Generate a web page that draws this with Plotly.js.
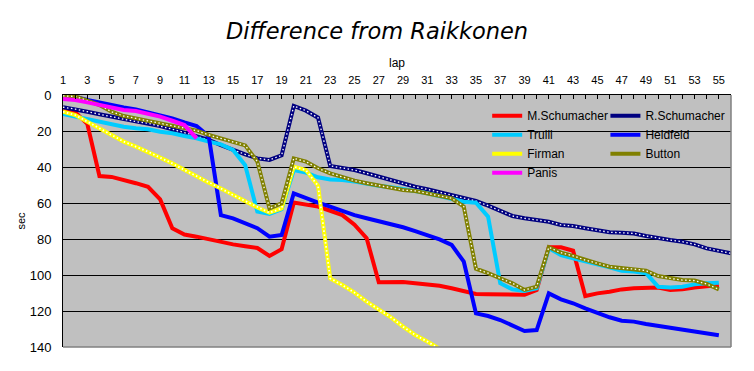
<!DOCTYPE html>
<html>
<head>
<meta charset="utf-8">
<script src="https://cdn.plot.ly/plotly-3.0.1.min.js"></script>
<style>html,body{margin:0;padding:0;background:#fff;}#chart{width:754px;height:371px;}</style>
</head>
<body>
<div id="chart"></div>
<script>
const laps = [1,2,3,4,5,6,7,8,9,10,11,12,13,14,15,16,17,18,19,20,21,22,23,24,25,26,27,28,29,30,31,32,33,34,35,36,37,38,39,40,41,42,43,44,45,46,47,48,49,50,51,52,53,54,55,56];
const tickLabels = ['1','3','5','7','9','11','13','15','17','19','21','23','25','27','29','31','33','35','37','39','41','43','45','47','49','51','53','55'];
const tickLaps = [1,3,5,7,9,11,13,15,17,19,21,23,25,27,29,31,33,35,37,39,41,43,45,47,49,51,53,55];

const mSchumacher = [9,9.5,16,45,45.5,47,49,51,58,74,77.5,78.7,80.2,81.7,83,84,85,89.4,85.7,59.8,61,62,64.3,66.7,72,79.6,104,104,103.9,104.6,105.2,106,107.4,108.7,110.5,110.7,110.7,111,111,108.3,84.6,84.6,86.5,111.7,110.2,109.3,108,107.4,107,107,108.3,107.9,106.9,106,105.5];
const rSchumacher = [6.8,7.8,9.3,10.7,12,13.3,14.8,15.7,17.2,19,20.9,23.1,25,27.8,30.6,33,35.2,36.1,33.5,6.1,8.7,12.6,39.4,40.4,41.7,43.5,45.4,47.2,49,51,52.4,54,55.6,57.4,58.9,61.5,64.4,67.2,68.5,69.4,70.4,72.2,72.8,74,75,76.3,76.5,76.9,78.3,79.6,80.6,81.5,83,85.2,86.7,88];
const trulli = [10.6,12,13.5,14.8,16.3,17.6,18.5,19,20.4,21.3,22.8,24,25.9,27.4,30.5,39,64.8,66.1,63.5,41.7,43.1,45.7,46.9,47.2,48.1,49.4,50.4,51.3,52.2,53.3,54.6,56.1,57.4,59.3,59.8,67.6,104.6,108,108.9,107.4,85.2,88.9,90.7,92.6,94,95.7,97.6,98.1,99,106.5,107,106.5,105.2,104.6,104.3];
const heidfeld = [0.5,1,2.8,4.3,5.6,6.9,8,9.6,11.1,13,15.2,17.2,23,66.7,68.5,71.3,74,78.7,77.8,54.6,57.4,59.8,62,64.4,66.7,68.5,70,71.7,73.5,75.6,77.8,80.2,83.3,92.6,121.3,122.8,125,127.8,131.1,130.6,110.2,113.5,115.7,118.5,121.3,123.5,125.4,125.9,127.2,128.3,129.6,130.6,131.5,132.4,133.5];
const firman = [9.3,11.1,14.8,18.5,22.2,25.9,28.7,31.5,34.8,38,41.7,45,48.7,51.9,55.6,58.9,62.5,65.4,63,39.8,41.7,50.5,101.9,105.6,109.8,114.8,119.1,123.5,128.7,133.3,137,141];
const button = [0.5,0.8,3.1,5.6,9.3,11.7,13,14.3,15.7,17.2,18.5,19.8,22.2,24.1,25.9,28,37,63,60.2,35.2,37,40.7,43.5,45.7,47.6,49,50.4,51.5,52.8,53.3,54.6,56.1,57.4,62,96.5,99,101.9,104.6,108.3,106.5,84.6,87.6,89.4,91.7,93.5,95.4,96.3,96.7,97.6,100.6,101.9,102.8,103.1,105,108];
const panis = [2.2,2.8,4.1,5.6,6.9,8.3,8.9,10.6,12,14.3,16.7,24.1];

function series(name, vals, color, legendName, pattern) {
  const out = [{
    type: 'scatter', mode: 'lines', name: name,
    x: laps.slice(0, vals.length), y: vals,
    line: {color: color, width: 4},
    legend: legendName, legendgroup: name, hoverinfo: 'skip'
  }];
  if (pattern) {
    out.push({
      type: 'scatter', mode: 'lines', name: name,
      x: laps.slice(0, vals.length), y: vals,
      line: {color: '#ffffff', width: pattern, dash: '1.5px,2.5px'},
      legend: legendName, legendgroup: name, showlegend: false, hoverinfo: 'skip'
    });
  }
  return out;
}

const data = [].concat(
  series('M.Schumacher', mSchumacher, '#FF0000', 'legend', 0),
  series('R.Schumacher', rSchumacher, '#000080', 'legend2', 1.3),
  series('Trulli', trulli, '#00CCFF', 'legend', 0),
  series('Heidfeld', heidfeld, '#0000FF', 'legend2', 0),
  series('Firman', firman, '#FFFF00', 'legend', 1.8),
  series('Button', button, '#808000', 'legend2', 1.3),
  series('Panis', panis, '#FF00FF', 'legend', 0)
);

const baseFont = {family: 'Liberation Sans, Arial, sans-serif', color: '#000'};

const layout = {
  width: 754, height: 371,
  margin: {l: 63, r: 23, t: 95, b: 24},
  paper_bgcolor: '#ffffff',
  plot_bgcolor: '#C0C0C0',
  font: Object.assign({size: 12}, baseFont),
  title: {
    text: '<i>Difference from Raikkonen</i>',
    font: {family: 'DejaVu Sans, Verdana, sans-serif', size: 22.5, color: '#000'},
    x: 0.5, xref: 'container', xanchor: 'center',
    y: 1 - 31/371, yref: 'container', yanchor: 'middle'
  },
  xaxis: {
    side: 'top', range: [1, 56], fixedrange: true,
    tickmode: 'array', tickvals: tickLaps, ticktext: tickLabels,
    ticks: 'inside', ticklen: 4, tickcolor: '#000',
    minor: {dtick: 1, tick0: 1, ticks: 'inside', ticklen: 4, tickcolor: '#000', showgrid: false},
    showgrid: false, zeroline: false,
    showline: true, linecolor: '#000', linewidth: 1,
    tickfont: Object.assign({size: 11}, baseFont),
    ticklabelstandoff: 6,
    title: {text: 'lap', font: Object.assign({size: 12}, baseFont), standoff: 3}
  },
  yaxis: {
    range: [140, 0], fixedrange: true,
    tickmode: 'array', tickvals: [0,20,40,60,80,100,120,140],
    ticks: 'inside', ticklen: 4, tickcolor: '#000',
    showgrid: true, gridcolor: '#000', gridwidth: 1,
    zeroline: false,
    showline: true, linecolor: '#000', linewidth: 1,
    tickfont: Object.assign({size: 13}, baseFont),
    ticklabelstandoff: 8,
    title: {text: 'sec', font: Object.assign({size: 11}, baseFont), standoff: 1}
  },
  showlegend: true,
  legend: {
    x: 0.635, xanchor: 'left', y: 0.975, yanchor: 'top',
    bgcolor: 'rgba(0,0,0,0)', borderwidth: 0,
    font: Object.assign({size: 12}, baseFont),
    tracegroupgap: 0, itemclick: false, itemdoubleclick: false
  },
  legend2: {
    x: 0.812, xanchor: 'left', y: 0.975, yanchor: 'top',
    bgcolor: 'rgba(0,0,0,0)', borderwidth: 0,
    font: Object.assign({size: 12}, baseFont),
    tracegroupgap: 0, itemclick: false, itemdoubleclick: false
  },
  shapes: [
    {type: 'line', xref: 'paper', yref: 'paper', x0: 0, x1: 1, y0: 0, y1: 0, line: {color: '#808080', width: 1.5}, layer: 'above'},
    {type: 'line', xref: 'paper', yref: 'paper', x0: 1, x1: 1, y0: 0, y1: 1, line: {color: '#808080', width: 1.5}, layer: 'above'}
  ]
};

Plotly.newPlot('chart', data, layout, {displayModeBar: false, staticPlot: true});
</script>
</body>
</html>
